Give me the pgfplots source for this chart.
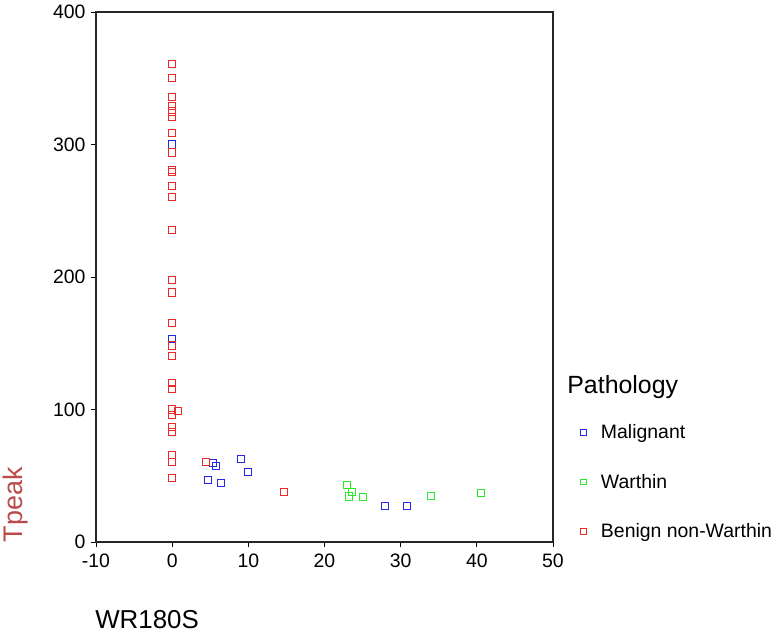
\documentclass[border=0pt]{standalone}
\usepackage{pgfplots}
\pgfplotsset{compat=1.18}
\usepackage{fontspec}
\setmainfont{Liberation Sans}
\definecolor{labred}{RGB}{185,75,75}
\definecolor{mblue}{RGB}{40,40,230}
\definecolor{mgreen}{RGB}{40,235,40}
\definecolor{mred}{RGB}{235,40,40}
\begin{document}
\begin{tikzpicture}
\useasboundingbox (-96bp,-92bp) rectangle (685bp,542bp);
\begin{axis}[
  at={(0,0)}, anchor=south west,
  scale only axis, width=457bp, height=530bp,
  xmin=-10, xmax=50, ymin=0, ymax=400,
  xtick={-10,0,...,50}, ytick={0,100,...,400},
  tick pos=left, tick align=outside,
  major tick length=5bp,
  axis line style={line width=1.1bp, black!85},
  every tick/.style={line width=0.9bp, black},
  /pgf/number format/assume math mode=true,
  ticklabel style={font=\fontsize{19.5}{22}\selectfont},
  yticklabel style={xshift=-2bp},
  xticklabel style={yshift=-3bp},
  clip=false,
  legend cell align=left,
  legend style={draw=none, fill=none, at={(axis description cs:1.053,0.113)}, anchor=west,
    font=\fontsize{19.5}{23}\selectfont, row sep=30bp,
    /tikz/every odd column/.append style={column sep=13bp}},
  legend image code/.code={\draw[mark size=2.8bp,#1] plot coordinates {(0.15cm,0cm)};},
]
\addplot[only marks, mark=square, mark size=3.6bp, mblue, mark options={line width=0.9bp}] coordinates {
(0,300) (0,153.4) (4.65,46.8) (5.35,59.4) (5.8,57.4) (6.45,44.5) (9.0,62.4) (10.0,52.6) (27.9,27.2) (30.8,27.2)
};
\addlegendentry{Malignant}
\addplot[only marks, mark=square, mark size=3.6bp, mgreen, mark options={line width=0.9bp}] coordinates {
(22.9,42.8) (23.6,37.7) (23.2,34.4) (25.0,33.7) (34.0,34.7) (40.5,37.0)
};
\addlegendentry{Warthin}
\addplot[only marks, mark=square, mark size=3.6bp, mred, mark options={line width=0.9bp}] coordinates {
(0,360.5) (0,350.4) (0,336) (0,329) (0,325) (0,321) (0,309) (0,294) (0,280.5) (0,279)
(0,269) (0,260.6) (0,235.5) (0,197.7) (0,188.4) (0,165.3) (0,148.4) (0,140.4) (0,120) (0,115.5)
(0,100.1) (0.75,98.9) (0,95.6) (0,86.6) (0,82.8) (0,65.7) (0,60.6) (0,48.5) (4.4,60.6) (14.7,38.0)
};
\addlegendentry{Benign non-Warthin}
\node[rotate=90, text=labred, font=\fontsize{27}{30}\selectfont] at (axis description cs:-0.177,0.07) {Tpeak};
\node[anchor=west, font=\fontsize{26}{30}\selectfont, inner sep=0pt] at (axis description cs:-0.002,-0.146) {WR180S};
\node[anchor=base west, font=\fontsize{25}{30}\selectfont, inner sep=0pt] at (axis description cs:1.031,0.281) {Pathology};
\end{axis}
\end{tikzpicture}
\end{document}
